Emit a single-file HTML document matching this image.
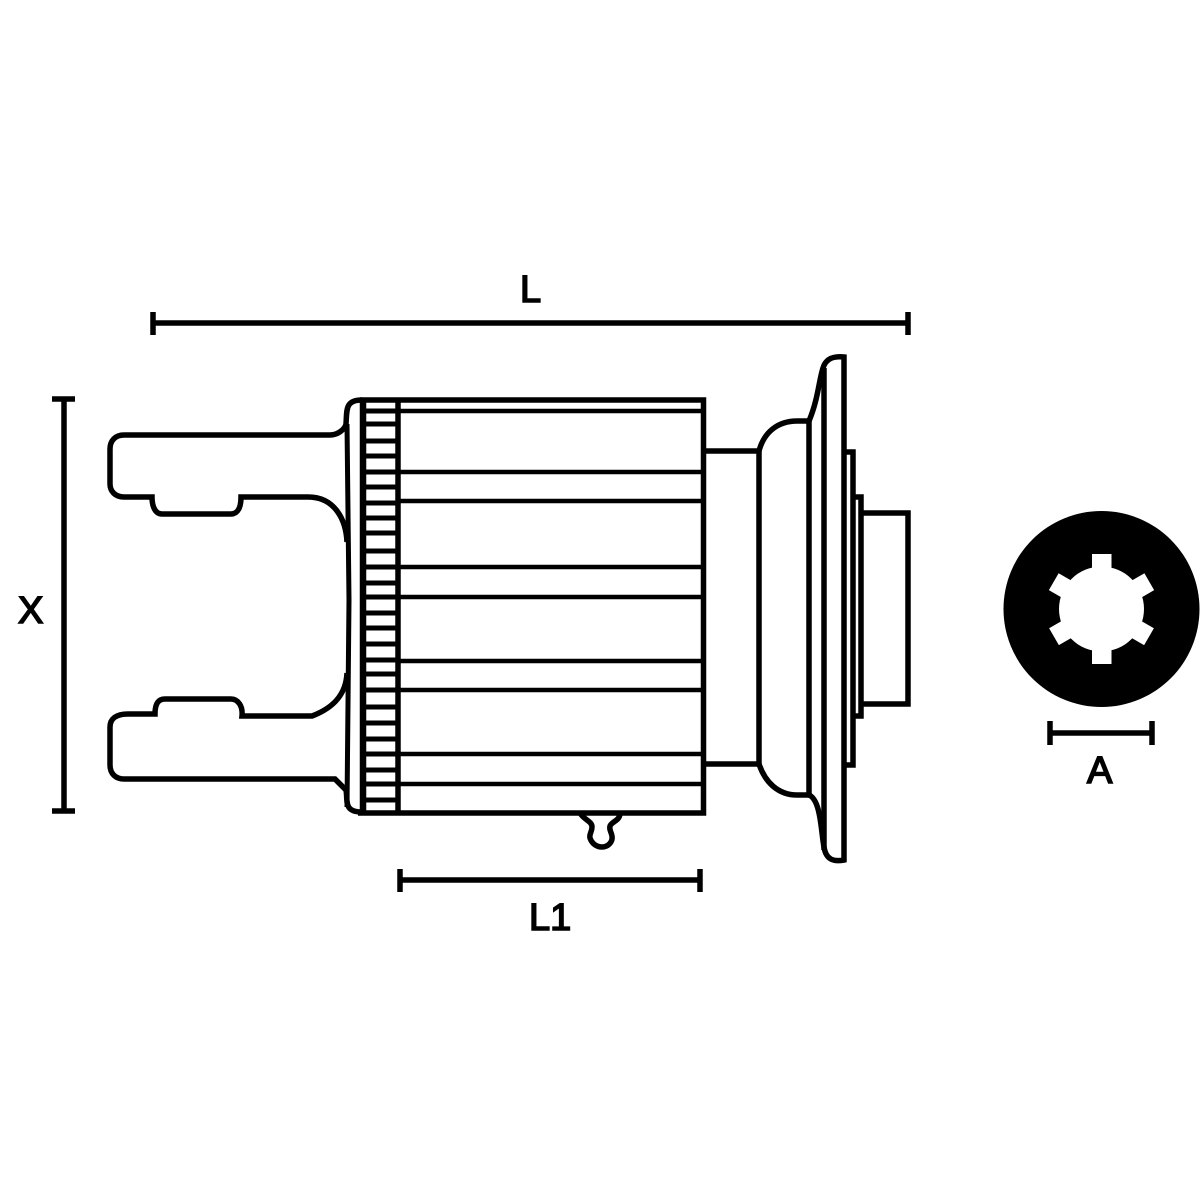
<!DOCTYPE html>
<html>
<head>
<meta charset="utf-8">
<style>
html,body{margin:0;padding:0;background:#fff;}
svg{display:block;}
text{font-family:"Liberation Sans",sans-serif;font-size:38px;fill:#000;stroke:#000;stroke-width:1.6px;}
</style>
</head>
<body>
<svg width="1200" height="1200" viewBox="0 0 1200 1200" xmlns="http://www.w3.org/2000/svg">
<rect width="1200" height="1200" fill="#fff"/>
<g fill="none" stroke="#000" stroke-width="5.5">
  <!-- upper fork -->
  <path d="M347 542 C346 520 335 497 308 497 L241 497 C241 507 238 514 231 514 L162 514 C155 514 152 506 152 497 L124 497 C115 497 110 491 110 484 L110 449 C110 441 115 435 124 435 L330 435 C338 435 345 429 346 424 C347 410 345 400 362 400"/>
  <!-- lower fork -->
  <path d="M347 673 C346 695 333 708 312 716 L242 716 C243 706 238 699 231 699 L165 699 C158 699 155 704 155 714 L128 714 C116 714 110 719 110 727 L110 765 C110 774 116 779 124 779 L335 779 L346 790 C348 800 343 812 362 812"/>
  <!-- collar line -->
  <path d="M347 424 L349 600 L347 807" stroke-width="5"/>
  <!-- body -->
  <path d="M360 400 H703.5 V813 H358"/>
  <path d="M363 400 V812" stroke-width="6.5"/>
  <path d="M398 400 V812" stroke-width="5.5"/>
  <!-- body bands -->
  <path d="M398 411H702M398 472H702M398 501H702M398 567H702M398 597H702M398 661H702M398 690H702M398 754H702M398 784H702" stroke-width="4.5"/>
  <!-- spline teeth -->
  <path d="M364 411H398M364 424H397M364 441H397M364 456H397M364 472H397M364 487H397M364 503H397M364 518H397M364 533H397M364 551H397M364 567H397M364 583H397M364 597H397M364 613H397M364 628H397M364 644H397M364 660H397M364 674H397M364 690H397M364 707H397M364 723H397M364 739H397M364 754H397M364 770H397M364 784H397M364 800H397" stroke-width="5"/>
  <!-- clip -->
  <path d="M580 813 C584 820 592 821 592 827 C592 832 589 834 590 838 C592 844 597 847 602 847 C608 847 613 842 612 836 C611 831 609 830 610 826 C612 821 620 821 620 813"/>
  <!-- neck -->
  <path d="M704 451 H759 M704 764 H759"/>
  <path d="M759 451 V764"/>
  <path d="M759 451 C764 432 778 421 797 421 H809"/>
  <path d="M759 764 C765 782 778 795 797 795 H809"/>
  <path d="M809 421 V795"/>
  <!-- flange -->
  <path d="M809 421 C818 400 819 380 823 368 C826 358 834 356 844 357 V860 C834 862 826 860 824 847 C821 832 821 800 809 795"/>
  <path d="M824 368 V850"/>
  <!-- steps -->
  <path d="M843 452 H853 V765 H842"/>
  <path d="M855 497 H861 V716 H855"/>
  <path d="M853 497 V716" stroke-width="3"/>
  <!-- hub -->
  <path d="M861 513 H908 V704 H861"/>
  <!-- dimensions -->
  <path d="M153 323 H908 M153 312 V335 M908 312 V335"/>
  <path d="M64 399 V811 M52 399 H75 M52 811 H75"/>
  <path d="M400 880 H700 M400 869 V892 M700 869 V892"/>
  <path d="M1050 733 H1152 M1050 721 V745 M1152 721 V745"/>
</g>
<!-- spline end view -->
<circle cx="1101.5" cy="609" r="98" fill="#000"/>
<g fill="#fff">
  <circle cx="1101.5" cy="609" r="42.5"/>
  <rect x="1092" y="554" width="19.5" height="110"/>
  <rect x="1092" y="554" width="19.5" height="110" transform="rotate(60 1101.5 609)"/>
  <rect x="1092" y="554" width="19.5" height="110" transform="rotate(120 1101.5 609)"/>
</g>
<text x="520" y="302">L</text>
<text x="18" y="623">X</text>
<text x="529" y="930">L1</text>
<text x="1087" y="783">A</text>
</svg>
</body>
</html>
